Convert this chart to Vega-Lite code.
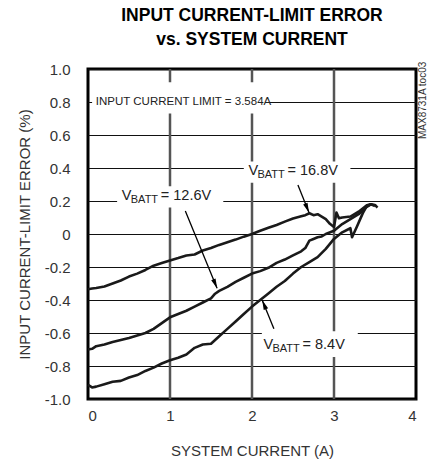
{
  "$schema": "https://vega.github.io/schema/vega-lite/v6.json",
  "width": 328,
  "height": 330,
  "autosize": {"type": "none"},
  "padding": {"left": 88, "top": 69, "right": 17, "bottom": 63},
  "background": "white",
  "title": {
    "text": ["INPUT CURRENT-LIMIT ERROR", "vs. SYSTEM CURRENT"],
    "font": "Liberation Sans, sans-serif",
    "fontSize": 17.5,
    "fontWeight": "bold",
    "color": "black",
    "anchor": "middle",
    "offset": 13,
    "lineHeight": 24
  },
  "config": {
    "view": {"stroke": "black", "strokeWidth": 3},
    "axis": {
      "ticks": false,
      "domain": false,
      "labelFont": "Liberation Sans, sans-serif",
      "labelFontSize": 15,
      "labelColor": "#333",
      "titleFont": "Liberation Sans, sans-serif",
      "titleFontSize": 15,
      "titleFontWeight": "normal",
      "titleColor": "#333"
    },
    "axisY": {"grid": true, "gridColor": "#111", "gridWidth": 1, "gridOpacity": 1}
  },
  "encoding": {
    "x": {"field": "x", "type": "quantitative", "scale": {"domain": [0, 4], "nice": false},
          "title": "SYSTEM CURRENT (A)",
          "axis": {"grid": false, "values": [0, 1, 2, 3, 4], "labelOverlap": false, "labelPadding": 9, "titlePadding": 20}},
    "y": {"field": "y", "type": "quantitative", "scale": {"domain": [-1, 1], "nice": false},
          "title": "INPUT CURRENT-LIMIT ERROR (%)",
          "axis": {"grid": true,
                   "values": [-1, -0.8, -0.6, -0.4, -0.2, 0, 0.2, 0.4, 0.6, 0.8, 1],
                   "labelOverlap": false,
                   "labelExpr": "datum.value == 0 ? '0' : (datum.value < 0 ? '-' : '') + format(abs(datum.value), '.1f')",
                   "labelPadding": 18, "titlePadding": 12}}
  },
  "datasets": {
    "xgrid": [{"x": 1, "y": -1, "y2": 1}, {"x": 2, "y": -1, "y2": 1}, {"x": 3, "y": -1, "y2": 1}],
    "curves": [
      {"series": "16.8V", "x": 0.0, "y": -0.335}, {"series": "16.8V", "x": 0.05, "y": -0.33}, {"series": "16.8V", "x": 0.1, "y": -0.327},
      {"series": "16.8V", "x": 0.2, "y": -0.318}, {"series": "16.8V", "x": 0.3, "y": -0.3}, {"series": "16.8V", "x": 0.4, "y": -0.282},
      {"series": "16.8V", "x": 0.5, "y": -0.258}, {"series": "16.8V", "x": 0.6, "y": -0.24}, {"series": "16.8V", "x": 0.7, "y": -0.218},
      {"series": "16.8V", "x": 0.8, "y": -0.192}, {"series": "16.8V", "x": 0.9, "y": -0.176}, {"series": "16.8V", "x": 1.0, "y": -0.16},
      {"series": "16.8V", "x": 1.1, "y": -0.146}, {"series": "16.8V", "x": 1.2, "y": -0.13}, {"series": "16.8V", "x": 1.3, "y": -0.124},
      {"series": "16.8V", "x": 1.4, "y": -0.1}, {"series": "16.8V", "x": 1.5, "y": -0.085}, {"series": "16.8V", "x": 1.6, "y": -0.066},
      {"series": "16.8V", "x": 1.7, "y": -0.05}, {"series": "16.8V", "x": 1.8, "y": -0.034}, {"series": "16.8V", "x": 1.9, "y": -0.016},
      {"series": "16.8V", "x": 2.0, "y": 0.0}, {"series": "16.8V", "x": 2.1, "y": 0.02}, {"series": "16.8V", "x": 2.2, "y": 0.038},
      {"series": "16.8V", "x": 2.3, "y": 0.055}, {"series": "16.8V", "x": 2.4, "y": 0.075}, {"series": "16.8V", "x": 2.5, "y": 0.094},
      {"series": "16.8V", "x": 2.6, "y": 0.108}, {"series": "16.8V", "x": 2.65, "y": 0.114}, {"series": "16.8V", "x": 2.7, "y": 0.126},
      {"series": "16.8V", "x": 2.75, "y": 0.114}, {"series": "16.8V", "x": 2.8, "y": 0.12}, {"series": "16.8V", "x": 2.85, "y": 0.105},
      {"series": "16.8V", "x": 2.9, "y": 0.09}, {"series": "16.8V", "x": 2.95, "y": 0.062}, {"series": "16.8V", "x": 3.0, "y": 0.042},
      {"series": "16.8V", "x": 3.03, "y": 0.13}, {"series": "16.8V", "x": 3.06, "y": 0.095}, {"series": "16.8V", "x": 3.1, "y": 0.1},
      {"series": "16.8V", "x": 3.2, "y": 0.106}, {"series": "16.8V", "x": 3.3, "y": 0.135}, {"series": "16.8V", "x": 3.4, "y": 0.174},
      {"series": "16.8V", "x": 3.45, "y": 0.18}, {"series": "16.8V", "x": 3.5, "y": 0.176}, {"series": "16.8V", "x": 3.53, "y": 0.16},

      {"series": "12.6V", "x": 0.0, "y": -0.7}, {"series": "12.6V", "x": 0.05, "y": -0.696}, {"series": "12.6V", "x": 0.1, "y": -0.68},
      {"series": "12.6V", "x": 0.2, "y": -0.67}, {"series": "12.6V", "x": 0.3, "y": -0.655}, {"series": "12.6V", "x": 0.4, "y": -0.642},
      {"series": "12.6V", "x": 0.5, "y": -0.63}, {"series": "12.6V", "x": 0.6, "y": -0.615}, {"series": "12.6V", "x": 0.7, "y": -0.6},
      {"series": "12.6V", "x": 0.8, "y": -0.575}, {"series": "12.6V", "x": 0.9, "y": -0.54}, {"series": "12.6V", "x": 1.0, "y": -0.505},
      {"series": "12.6V", "x": 1.1, "y": -0.485}, {"series": "12.6V", "x": 1.2, "y": -0.465}, {"series": "12.6V", "x": 1.3, "y": -0.44},
      {"series": "12.6V", "x": 1.4, "y": -0.415}, {"series": "12.6V", "x": 1.5, "y": -0.39}, {"series": "12.6V", "x": 1.55, "y": -0.362},
      {"series": "12.6V", "x": 1.6, "y": -0.345}, {"series": "12.6V", "x": 1.7, "y": -0.32}, {"series": "12.6V", "x": 1.8, "y": -0.29},
      {"series": "12.6V", "x": 1.9, "y": -0.265}, {"series": "12.6V", "x": 2.0, "y": -0.24}, {"series": "12.6V", "x": 2.1, "y": -0.225},
      {"series": "12.6V", "x": 2.2, "y": -0.205}, {"series": "12.6V", "x": 2.3, "y": -0.175}, {"series": "12.6V", "x": 2.4, "y": -0.155},
      {"series": "12.6V", "x": 2.5, "y": -0.13}, {"series": "12.6V", "x": 2.6, "y": -0.105}, {"series": "12.6V", "x": 2.65, "y": -0.085},
      {"series": "12.6V", "x": 2.7, "y": -0.04}, {"series": "12.6V", "x": 2.75, "y": -0.03}, {"series": "12.6V", "x": 2.8, "y": -0.02},
      {"series": "12.6V", "x": 2.85, "y": -0.015}, {"series": "12.6V", "x": 2.9, "y": 0.0}, {"series": "12.6V", "x": 3.0, "y": 0.02},
      {"series": "12.6V", "x": 3.1, "y": 0.06}, {"series": "12.6V", "x": 3.2, "y": 0.09}, {"series": "12.6V", "x": 3.3, "y": 0.12},
      {"series": "12.6V", "x": 3.4, "y": 0.165}, {"series": "12.6V", "x": 3.45, "y": 0.18}, {"series": "12.6V", "x": 3.5, "y": 0.17},

      {"series": "8.4V", "x": 0.0, "y": -0.915}, {"series": "8.4V", "x": 0.05, "y": -0.93}, {"series": "8.4V", "x": 0.1, "y": -0.925},
      {"series": "8.4V", "x": 0.2, "y": -0.91}, {"series": "8.4V", "x": 0.3, "y": -0.895}, {"series": "8.4V", "x": 0.4, "y": -0.89},
      {"series": "8.4V", "x": 0.5, "y": -0.87}, {"series": "8.4V", "x": 0.6, "y": -0.855}, {"series": "8.4V", "x": 0.7, "y": -0.83},
      {"series": "8.4V", "x": 0.8, "y": -0.81}, {"series": "8.4V", "x": 0.9, "y": -0.785}, {"series": "8.4V", "x": 1.0, "y": -0.765},
      {"series": "8.4V", "x": 1.1, "y": -0.75}, {"series": "8.4V", "x": 1.2, "y": -0.73}, {"series": "8.4V", "x": 1.3, "y": -0.69},
      {"series": "8.4V", "x": 1.4, "y": -0.67}, {"series": "8.4V", "x": 1.5, "y": -0.665}, {"series": "8.4V", "x": 1.6, "y": -0.62},
      {"series": "8.4V", "x": 1.7, "y": -0.575}, {"series": "8.4V", "x": 1.8, "y": -0.53}, {"series": "8.4V", "x": 1.9, "y": -0.485},
      {"series": "8.4V", "x": 2.0, "y": -0.44}, {"series": "8.4V", "x": 2.1, "y": -0.4}, {"series": "8.4V", "x": 2.2, "y": -0.36},
      {"series": "8.4V", "x": 2.3, "y": -0.32}, {"series": "8.4V", "x": 2.4, "y": -0.285}, {"series": "8.4V", "x": 2.5, "y": -0.24},
      {"series": "8.4V", "x": 2.6, "y": -0.2}, {"series": "8.4V", "x": 2.7, "y": -0.17}, {"series": "8.4V", "x": 2.8, "y": -0.14},
      {"series": "8.4V", "x": 2.9, "y": -0.09}, {"series": "8.4V", "x": 3.0, "y": -0.03}, {"series": "8.4V", "x": 3.1, "y": 0.01},
      {"series": "8.4V", "x": 3.2, "y": 0.035}, {"series": "8.4V", "x": 3.22, "y": -0.02}, {"series": "8.4V", "x": 3.28, "y": 0.045},
      {"series": "8.4V", "x": 3.35, "y": 0.125}, {"series": "8.4V", "x": 3.4, "y": 0.17}, {"series": "8.4V", "x": 3.45, "y": 0.18}
    ],
    "boxes": [
      {"x": 0.05, "x2": 2.2, "y": 0.73, "y2": 0.92},
      {"x": 1.9, "x2": 3.2, "y": 0.31, "y2": 0.44},
      {"x": 0.355, "x2": 1.65, "y": 0.16, "y2": 0.29},
      {"x": 2.12, "x2": 3.29, "y": -0.745, "y2": -0.59}
    ],
    "vlabels": [
      {"x": 1.957, "y": 0.381, "v": "V", "sub": "BATT", "rest": "= 16.8V"},
      {"x": 0.412, "y": 0.228, "v": "V", "sub": "BATT", "rest": "= 12.6V"},
      {"x": 2.14, "y": -0.67, "v": "V", "sub": "BATT", "rest": "= 8.4V"}
    ],
    "arrows": [
      {"x": 2.56, "y": 0.297, "x2": 2.695, "y2": 0.13},
      {"x": 1.187, "y": 0.139, "x2": 1.574, "y2": -0.329},
      {"x": 2.267, "y": -0.574, "x2": 2.125, "y2": -0.401}
    ],
    "heads": [
      {"x": 2.672, "y": 0.158, "angle": 158},
      {"x": 1.551, "y": -0.301, "angle": 157.5},
      {"x": 2.148, "y": -0.429, "angle": 337.7}
    ],
    "notes": [
      {"x": 0.095, "y": 0.8, "label": "INPUT CURRENT LIMIT = 3.584A"}
    ],
    "ids": [
      {"x": 4.085, "y": 0.81, "label": "MAX8731A toc03"}
    ]
  },
  "layer": [
    {
      "data": {"name": "xgrid"},
      "mark": {"type": "rule", "color": "#555", "strokeWidth": 2.5},
      "encoding": {
        "y2": {"field": "y2"}
      }
    },
    {
      "data": {"name": "boxes"},
      "mark": {"type": "rect", "fill": "white"},
      "encoding": {
        "x2": {"field": "x2"},
        "y2": {"field": "y2"}
      }
    },
    {
      "data": {"name": "curves"},
      "mark": {"type": "line", "color": "#1a1a1a", "strokeWidth": 2.6, "strokeJoin": "round"},
      "encoding": {
        "detail": {"field": "series", "type": "nominal"}
      }
    },
    {
      "data": {"name": "arrows"},
      "mark": {"type": "rule", "color": "black", "strokeWidth": 1.3},
      "encoding": {
        "x2": {"field": "x2"},
        "y2": {"field": "y2"}
      }
    },
    {
      "data": {"name": "heads"},
      "mark": {"type": "point", "shape": "M0,-1L0.45,0.9L-0.45,0.9Z", "filled": true, "color": "black", "size": 110, "opacity": 1},
      "encoding": {
        "angle": {"field": "angle", "type": "quantitative", "scale": null}
      }
    },
    {
      "data": {"name": "vlabels"},
      "mark": {"type": "text", "align": "left", "baseline": "middle", "font": "Liberation Sans, sans-serif", "fontSize": 14.5, "color": "#222"},
      "encoding": {
        "text": {"field": "v"}
      }
    },
    {
      "data": {"name": "vlabels"},
      "mark": {"type": "text", "align": "left", "baseline": "middle", "dx": 9, "dy": 4, "font": "Liberation Sans, sans-serif", "fontSize": 11, "color": "#222"},
      "encoding": {
        "text": {"field": "sub"}
      }
    },
    {
      "data": {"name": "vlabels"},
      "mark": {"type": "text", "align": "left", "baseline": "middle", "dx": 39, "font": "Liberation Sans, sans-serif", "fontSize": 14.5, "color": "#222"},
      "encoding": {
        "text": {"field": "rest"}
      }
    },
    {
      "data": {"name": "notes"},
      "mark": {"type": "text", "align": "left", "baseline": "middle", "font": "Liberation Sans, sans-serif", "fontSize": 11.5, "color": "#222"},
      "encoding": {
        "text": {"field": "label"}
      }
    },
    {
      "data": {"name": "ids"},
      "mark": {"type": "text", "align": "center", "baseline": "middle", "angle": 270, "font": "Liberation Sans, sans-serif", "fontSize": 10, "color": "#333"},
      "encoding": {
        "text": {"field": "label"}
      }
    }
  ]
}
